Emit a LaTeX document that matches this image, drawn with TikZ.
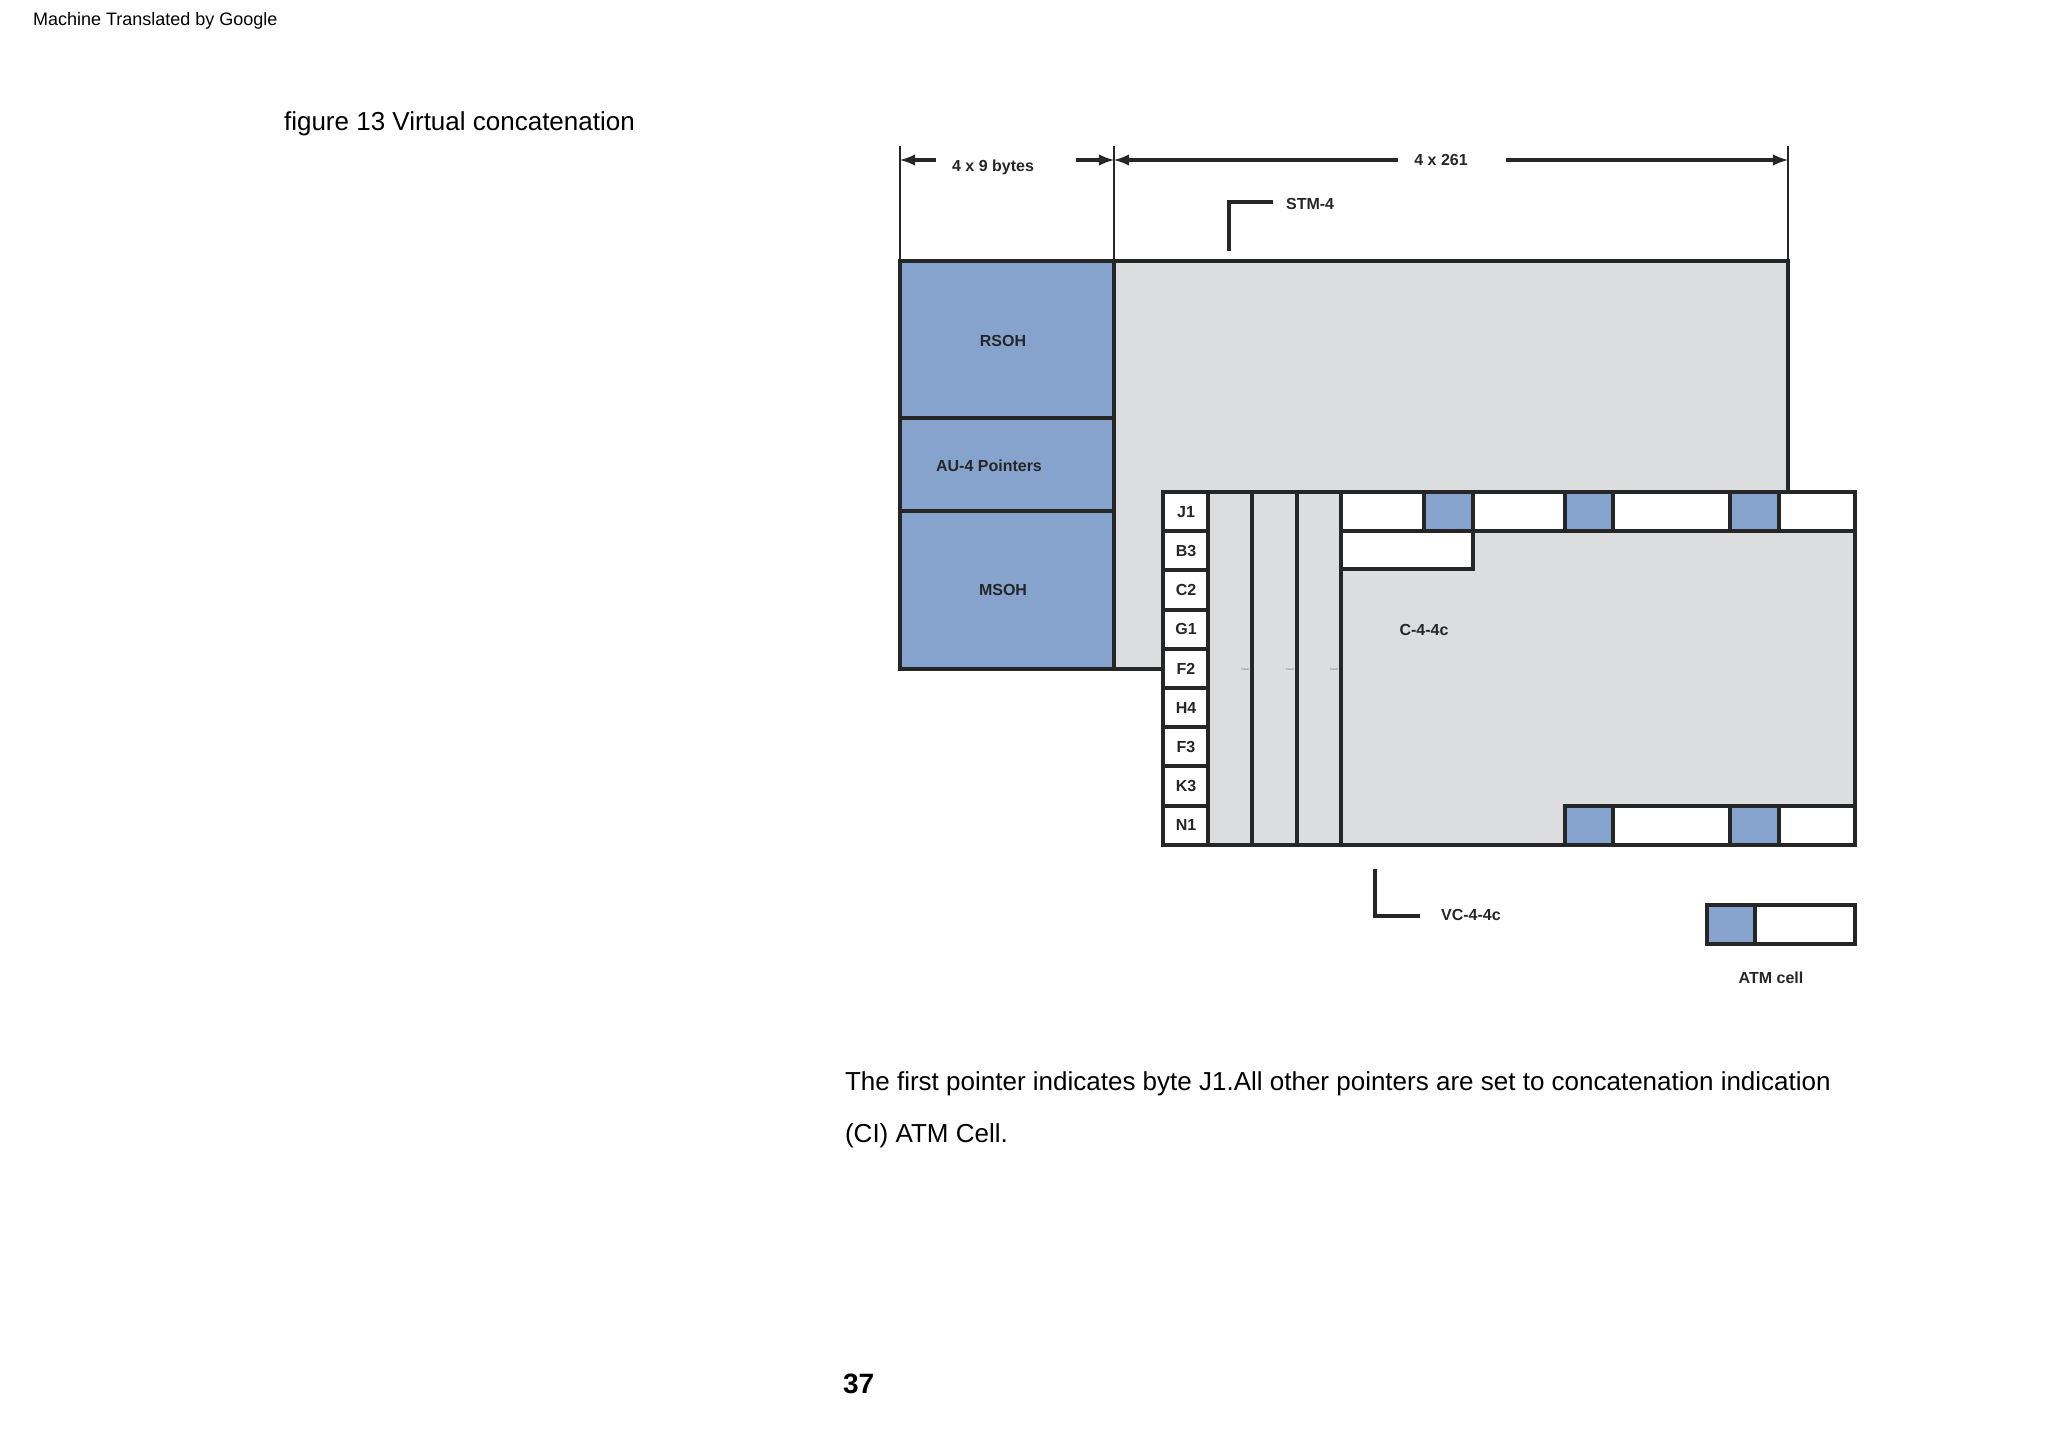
\documentclass[tikz,border=0pt]{standalone}
\usepackage{fontspec}
\setmainfont{Liberation Sans}
\begin{document}
\begin{tikzpicture}[x=0.5pt,y=-0.5pt,
  frame/.style={draw=black!85,line width=2pt},
  bluec/.style={frame,fill=cellblue},
  greyc/.style={frame,fill=cellgrey},
  whitec/.style={frame,fill=white},
  lab/.style={font=\bfseries\fontsize{8}{9}\selectfont,text=black!85},
  thin/.style={draw=black!85,line width=1.3pt},
  dim/.style={draw=black!85,line width=1.6pt,-latex}]
\definecolor{cellblue}{HTML}{85A3CD}
\definecolor{cellgrey}{HTML}{DCDDDF}
\useasboundingbox (0,0) rectangle (2048,1452);
% texts
\node[anchor=west,font=\fontsize{9}{10}\selectfont] (hdr) at (26,21) {Machine Translated by Google};
\node[anchor=west,font=\fontsize{13}{15}\selectfont] (title) at (277,124) {figure 13 Virtual concatenation};
\node[anchor=west,font=\fontsize{13}{15}\selectfont] (p1) at (838,1084) {The first pointer indicates byte J1.All other pointers are set to concatenation indication};
\node[anchor=west,font=\fontsize{13}{15}\selectfont] (p2) at (838,1136) {(CI) ATM Cell.};
\node[anchor=west,font=\bfseries\fontsize{14}{16}\selectfont] (pg) at (836,1384) {37};
% STM-4 frame
\draw[greyc] (1114,261) -- (1788,261) -- (1788,492) -- (1163,492) -- (1163,669) -- (1114,669) -- cycle;
\draw[bluec] (900,261) rectangle (1114,418);
\draw[bluec] (900,418) rectangle (1114,511);
\draw[bluec] (900,511) rectangle (1114,669);
\node[lab] (rsoh) at (1003,341) {RSOH};
\node[lab] (au4) at (989,466) {AU-4 Pointers};
\node[lab] (msoh) at (1003,590) {MSOH};
% dimension lines
\draw[thin] (900,146) -- (900,261);
\draw[thin] (1114,146) -- (1114,261);
\draw[thin] (1788,146) -- (1788,261);
\node[lab] (d1) at (993,167) {4 x 9 bytes};
\node[lab] (d2) at (1441,160) {4 x 261};
\coordinate (a1) at (936,160); \coordinate (a1e) at (900,160);
\coordinate (a2) at (1076,160); \coordinate (a2e) at (1114,160);
\coordinate (a3) at (1398,160); \coordinate (a3e) at (1114,160);
\coordinate (a4) at (1506,160); \coordinate (a4e) at (1788,160);
\draw[dim] (a1) -- (a1e);
\draw[dim] (a2) -- (a2e);
\draw[dim] (a3) -- (a3e);
\draw[dim] (a4) -- (a4e);
% STM-4 bracket
\draw[frame,line width=1.7pt] (1229,251) -- (1229,202) -- (1273,202);
\node[lab,anchor=west] (stm) at (1279,204) {STM-4};
% VC-4-4c
\draw[greyc] (1163,492) rectangle (1855,845);
\foreach \i/\t in {0/J1,1/B3,2/C2,3/G1,4/F2,5/H4,6/F3,7/K3,8/N1}{
  \draw[whitec] (1163,492+39.2*\i) rectangle (1208,492+39.2*\i+39.2);
  \node[lab] (r\t) at (1186,492+39.2*\i+19.6) {\t};
}
\draw[frame] (1252,492) -- (1252,845);
\draw[frame] (1297,492) -- (1297,845);
\draw[frame] (1341,492) -- (1341,845);
\foreach \x in {1249,1294,1338}{
  \node[font=\fontsize{1.5}{2}\selectfont,anchor=east,inner sep=0pt,text=black!60] at (\x,669) {Fixed};
}
% top row
\draw[whitec] (1341,492) rectangle (1424,531);
\draw[bluec] (1424,492) rectangle (1473,531);
\draw[whitec] (1473,492) rectangle (1565,531);
\draw[bluec] (1565,492) rectangle (1613,531);
\draw[whitec] (1613,492) rectangle (1730,531);
\draw[bluec] (1730,492) rectangle (1779,531);
\draw[whitec] (1779,492) rectangle (1855,531);
\draw[whitec] (1341,531) rectangle (1473,569);
% bottom row
\draw[bluec] (1565,806) rectangle (1613,845);
\draw[whitec] (1613,806) rectangle (1730,845);
\draw[bluec] (1730,806) rectangle (1779,845);
\draw[whitec] (1779,806) rectangle (1855,845);
\node[lab] (c44) at (1424,630) {C-4-4c};
% VC bracket
\draw[frame,line width=1.7pt] (1375,869) -- (1375,916) -- (1420,916);
\node[lab,anchor=west] (vc) at (1434,915) {VC-4-4c};
% ATM legend
\draw[bluec] (1707,905) rectangle (1755,944);
\draw[whitec] (1755,905) rectangle (1855,944);
\node[lab] (atm) at (1771,978) {ATM cell};
\end{tikzpicture}
\end{document}
